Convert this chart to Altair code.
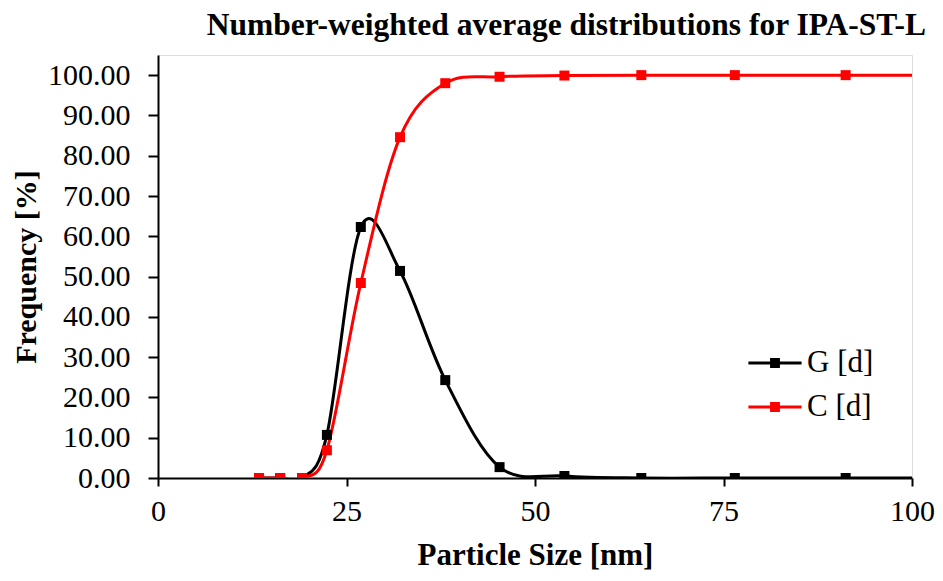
import altair as alt
import pandas as pd

sizes = [13.4, 16.2, 19.1, 22.4, 26.9, 32.1, 38.1, 45.3, 53.9, 64.1, 76.5, 91.2, 108.5]
g_d = [0.0, 0.0, 0.0, 10.7, 62.3, 51.4, 24.3, 2.7, 0.5, 0.0, 0.0, 0.0, 0.0]
c_d = [0.0, 0.0, 0.0, 6.9, 48.4, 84.6, 98.0, 99.6, 99.9, 100.0, 100.0, 100.0, 100.0]
series_names = ["G [d]", "C [d]"]
series_colors = ["#000000", "#ff0000"]
x_ticks = [0, 25, 50, 75, 100]
y_ticks = [0, 10, 20, 30, 40, 50, 60, 70, 80, 90, 100]

rows = []
for s, gv, cv in zip(sizes, g_d, c_d):
    rows.append({"size": s, "value": gv, "series": series_names[0]})
    rows.append({"size": s, "value": cv, "series": series_names[1]})
df = pd.DataFrame(rows)

FONT = "Liberation Serif"
sym = ("M-1.4,-0.08L1.4,-0.08L1.4,0.08L-1.4,0.08Z "
       "M-0.26,-0.26L0.26,-0.26L0.26,0.26L-0.26,0.26Z")

x = alt.X("size:Q", scale=alt.Scale(domain=[0, 100], nice=False, zero=False),
          axis=alt.Axis(values=x_ticks, title="Particle Size [nm]", grid=False,
                        labelFontSize=30, labelFont=FONT, labelColor="black",
                        titleFontSize=31, titleFont=FONT, titleFontWeight="bold",
                        titleColor="black", tickSize=8, tickColor="black",
                        tickWidth=2, domainColor="black", domainWidth=2,
                        labelPadding=10, titlePadding=14, labelFlush=False))
y = alt.Y("value:Q", scale=alt.Scale(domain=[0, 105], nice=False),
          axis=alt.Axis(values=y_ticks, format=".2f", title="Frequency [%]",
                        grid=False, labelFontSize=30, labelFont=FONT,
                        labelColor="black", titleFontSize=30, titleFont=FONT,
                        titleFontWeight="bold", titleColor="black",
                        tickSize=10, tickColor="black", tickWidth=2,
                        domainColor="black", domainWidth=2, labelPadding=18,
                        titlePadding=6, labelFlush=False))
color = alt.Color("series:N",
                  scale=alt.Scale(domain=series_names, range=series_colors),
                  legend=alt.Legend(title=None, orient="none", legendX=598,
                                    legendY=289, symbolType=sym, symbolSize=1444,
                                    symbolStrokeWidth=0, labelFont=FONT,
                                    labelFontSize=31, labelColor="black",
                                    labelOffset=13, rowPadding=10, padding=0))

base = alt.Chart(df).encode(x=x, y=y, color=color,
                            order=alt.Order("size:Q"))
lines = base.mark_line(strokeWidth=3, interpolate="cardinal", clip=True)
points = base.mark_point(shape="square", filled=True, size=100, opacity=1,
                         clip=True)

chart = alt.layer(lines, points).properties(
    width=754, height=423,
    title=alt.TitleParams("Number-weighted average distributions for IPA-ST-L",
                          font=FONT, fontSize=31.5, fontWeight="bold",
                          color="black", anchor="end", frame="group", dx=14,
                          offset=14),
    autosize=alt.AutoSizeParams(type="none"),
    padding={"left": 150, "top": 47, "right": 23, "bottom": 95},
).configure_view(stroke="black", strokeWidth=2).configure(background="white")

chart.save("out.html", embed_options={"renderer": "svg", "actions": False})
